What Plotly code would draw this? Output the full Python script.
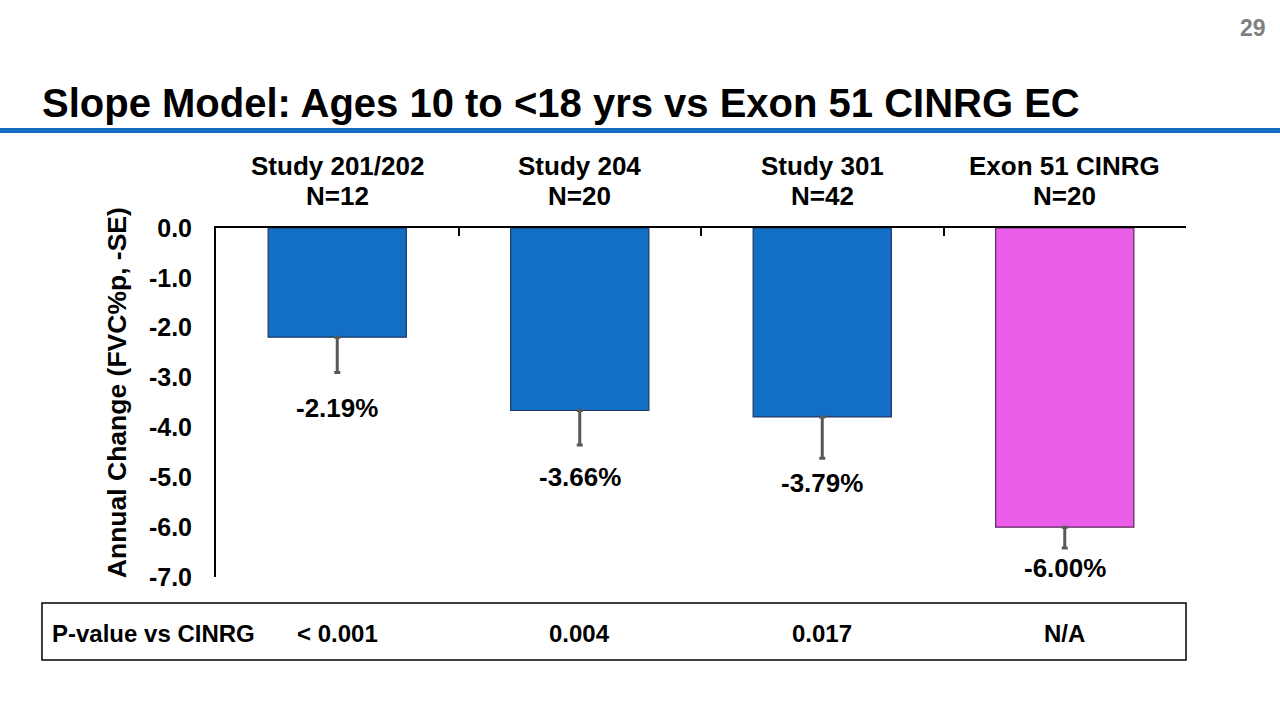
import plotly.graph_objects as go

# ---- data ----
categories = ["Study 201/202", "Study 204", "Study 301", "Exon 51 CINRG"]
n_labels = ["N=12", "N=20", "N=42", "N=20"]
annual_change = [-2.19, -3.66, -3.79, -6.00]
se_values = [0.71, 0.69, 0.83, 0.42]
p_values = ["< 0.001", "0.004", "0.017", "N/A"]
y_ticks = [0, -1, -2, -3, -4, -5, -6, -7]

# ---- styles ----
bar_colors = ["#136FC6", "#136FC6", "#136FC6", "#EA5EEA"]
bar_line_colors = ["#1F3864", "#1F3864", "#1F3864", "#5A2A5A"]
label_shift = [-18, -15, -8, -3]
FONT = "Arial, 'Liberation Sans', sans-serif"

fig = go.Figure()
fig.add_trace(go.Bar(
    x=categories,
    y=annual_change,
    marker=dict(color=bar_colors, line=dict(color=bar_line_colors, width=1.2)),
    width=0.57,
    error_y=dict(type="data", symmetric=False, array=[0] * len(se_values),
                 arrayminus=se_values, color="#595959", thickness=3, width=3),
    showlegend=False,
    hoverinfo="skip",
))

# Category headers (two lines placed separately)
for c, n in zip(categories, n_labels):
    fig.add_annotation(x=c, xref="x", y=1, yref="paper", yanchor="middle",
                       yshift=62, text=c, showarrow=False,
                       font=dict(family=FONT, size=26, color="black", weight="bold"))
    fig.add_annotation(x=c, xref="x", y=1, yref="paper", yanchor="middle",
                       yshift=32, text=n, showarrow=False,
                       font=dict(family=FONT, size=26, color="black", weight="bold"))

# Value labels
for c, v, s, sh in zip(categories, annual_change, se_values, label_shift):
    fig.add_annotation(x=c, xref="x", y=v - s, yref="y", yanchor="top",
                       yshift=sh, text=f"{v:.2f}%", showarrow=False,
                       font=dict(family=FONT, size=26, color="black", weight="bold"))

# P-value table
fig.add_shape(type="rect", xref="paper", yref="paper",
              x0=-0.1794, x1=1.0, y0=-0.0745, y1=-0.2378,
              line=dict(color="black", width=1.5), fillcolor="rgba(0,0,0,0)")
fig.add_annotation(x=-0.1712, xref="paper", y=-0.1633, yref="paper",
                   xanchor="left", yanchor="middle", text="P-value vs CINRG",
                   showarrow=False,
                   font=dict(family=FONT, size=24, color="black", weight="bold"))
for c, p in zip(categories, p_values):
    fig.add_annotation(x=c, xref="x", y=-0.1633, yref="paper", yanchor="middle",
                       text=p, showarrow=False,
                       font=dict(family=FONT, size=24, color="black", weight="bold"))

# Y-axis title
fig.add_annotation(x=-0.102, xref="paper", y=0.527, yref="paper",
                   text="Annual Change (FVC%p, -SE)", textangle=-90,
                   showarrow=False, xanchor="center", yanchor="middle",
                   font=dict(family=FONT, size=26.5, color="black", weight="bold"))

# Page number
fig.add_annotation(x=(1268 - 216) / 970, xref="paper", y=(577 - 28) / 349,
                   yref="paper", xanchor="right", yanchor="middle", text="29",
                   showarrow=False,
                   font=dict(family=FONT, size=23, color="#7F7F7F", weight="bold"))

# Title underline
fig.add_shape(type="line", xref="paper", yref="paper",
              x0=-216 / 970, x1=(1280 - 216) / 970,
              y0=(577 - 130.5) / 349, y1=(577 - 130.5) / 349,
              line=dict(color="#176BC0", width=5))

fig.update_layout(
    width=1280, height=720,
    margin=dict(l=216, r=94, t=228, b=143, pad=0),
    paper_bgcolor="white", plot_bgcolor="white",
    title=dict(text="Slope Model: Ages 10 to <18 yrs vs Exon 51 CINRG EC",
               x=42 / 1280, xanchor="left", xref="container",
               y=1 - 103 / 720, yanchor="middle", yref="container",
               font=dict(family=FONT, size=40, color="black", weight="bold")),
    bargap=0.43,
)
fig.update_xaxes(type="category", side="top", showline=True, linecolor="black",
                 linewidth=2, ticks="inside", tickson="boundaries", ticklen=8,
                 tickwidth=2, tickcolor="black", showticklabels=False,
                 showgrid=False, zeroline=False, range=[-0.5, 3.5])
fig.update_yaxes(range=[-7, 0], tickvals=y_ticks,
                 ticktext=[f"{t:.1f}" if t == 0 else f"-{abs(t):.1f}" for t in y_ticks],
                 showline=True, linecolor="black", linewidth=2, ticks="",
                 showgrid=False, zeroline=False, ticklabelstandoff=17,
                 tickfont=dict(family=FONT, size=25, color="black", weight="bold"))

fig.write_html("out.html", config={"displayModeBar": False},
               post_script="document.body.style.margin='0';document.body.style.overflow='hidden';")
